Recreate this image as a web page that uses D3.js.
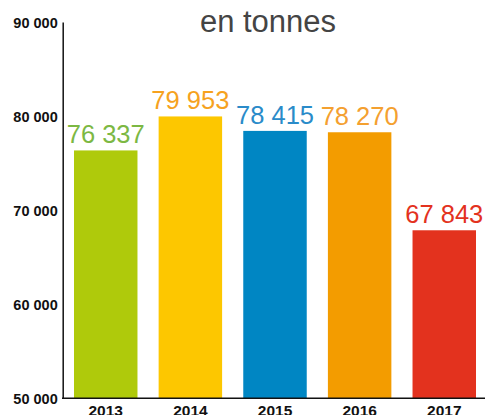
<!DOCTYPE html>
<html>
<head>
<meta charset="utf-8">
<script src="https://cdn.jsdelivr.net/npm/d3@7"></script>
<style>
  body { margin: 0; background: #fff; }
  svg { display: block; font-family: "Liberation Sans", Arial, Helvetica, sans-serif; }
</style>
</head>
<body>
<svg id="chart"></svg>
<script>
const years = ['2013', '2014', '2015', '2016', '2017'];
const tonnes = [76337, 79953, 78415, 78270, 67843];
const barColors = ['#afca0b', '#fdc700', '#0086c3', '#f39c00', '#e3321e'];
const labelColors = ['#7cb843', '#f6a21e', '#2a8bc9', '#f4a030', '#e3321e'];
const yTicks = [50000, 60000, 70000, 80000, 90000];

const width = 485;
const height = 415;

const svg = d3.select('#chart').
attr('width', width).
attr('height', height);

const x = d3.scaleBand().
domain(years).
range([63, 487]).
paddingInner(0.25).
paddingOuter(0.13);

const y = d3.scaleLinear().
domain([50000, 90000]).
range([398, 22]);

const fmt = function (v) {
  return d3.format(',')(v).replace(/,/g, ' ');
};

// title
svg.append('text').
attr('x', 268).
attr('y', 32).
attr('text-anchor', 'middle').
style('font-size', '31px').
style('fill', '#444').
text('en tonnes');

// bars
svg.selectAll('rect.bar').
data(years).
enter().
append('rect').
attr('class', 'bar').
attr('x', d => x(d)).
attr('y', (d, i) => y(tonnes[i])).
attr('width', x.bandwidth()).
attr('height', (d, i) => y(50000) - y(tonnes[i])).
style('fill', (d, i) => barColors[i]);

// value labels
svg.selectAll('text.value').
data(years).
enter().
append('text').
attr('class', 'value').
attr('x', d => x(d) + x.bandwidth() / 2).
attr('y', (d, i) => y(tonnes[i]) - 7).
attr('text-anchor', 'middle').
style('font-size', '25.5px').
style('fill', (d, i) => labelColors[i]).
text((d, i) => fmt(tonnes[i]));

// y axis
const yAxis = d3.axisLeft(y).
tickValues(yTicks).
tickSize(0).
tickPadding(5).
tickFormat(fmt);

const gy = svg.append('g').
attr('transform', 'translate(62.7,0)').
call(yAxis);
gy.select('.domain').attr('stroke', '#111').attr('stroke-width', 1.5);
gy.selectAll('text').
style('font-size', '14.5px').
style('font-weight', 'bold').
style('fill', '#111').
attr('dy', '0.36em');

// x axis
const xAxis = d3.axisBottom(x).
tickSize(0).
tickPadding(7);

const gx = svg.append('g').
attr('transform', 'translate(0,398.3)').
call(xAxis);
gx.select('.domain').
attr('d', 'M62,0H485').
attr('stroke', '#111').
attr('stroke-width', 1.5);
gx.selectAll('text').
style('font-size', '15.5px').
style('font-weight', 'bold').
style('fill', '#111');
</script>
</body>
</html>
